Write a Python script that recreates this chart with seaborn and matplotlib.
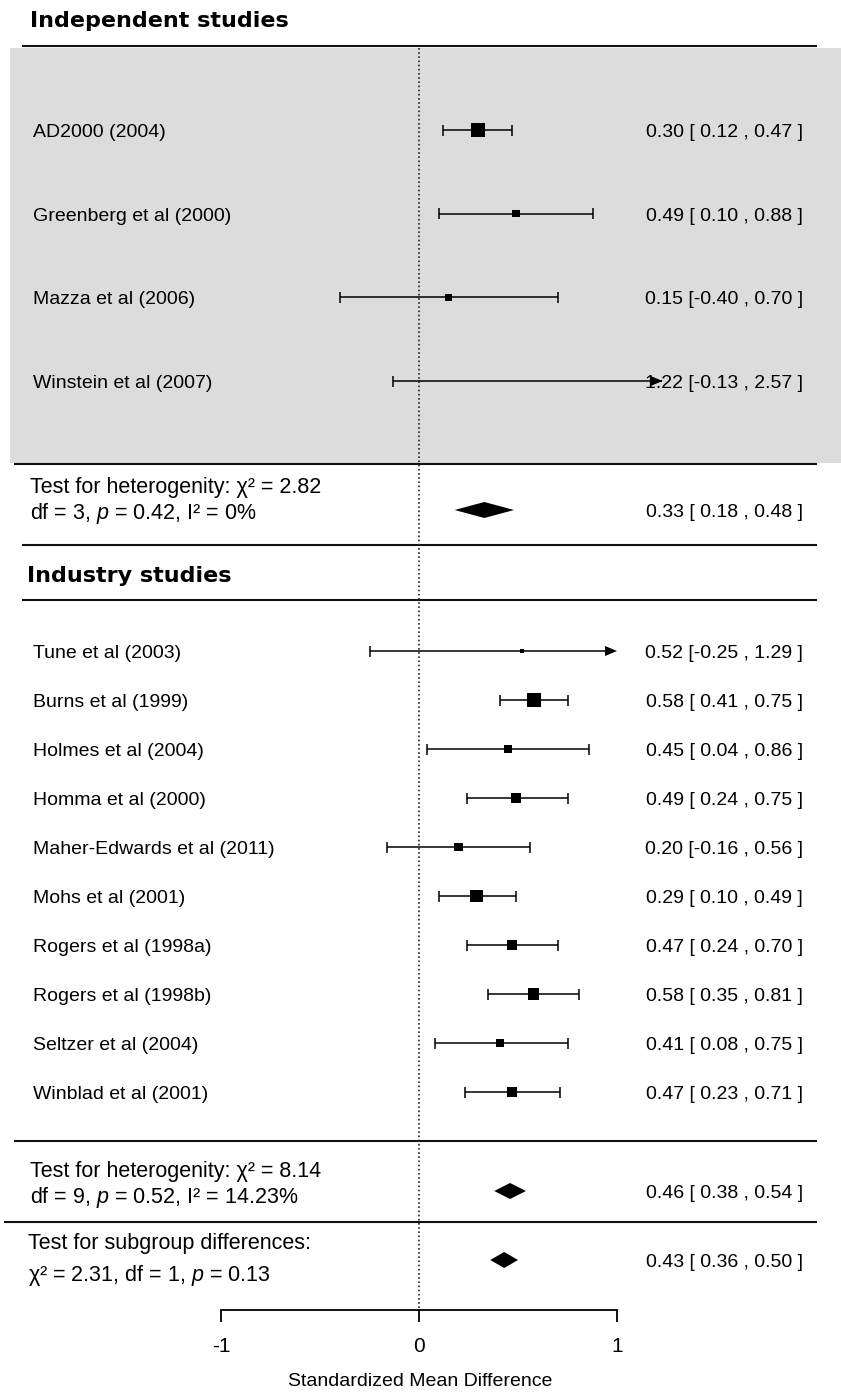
import numpy as np
import pandas as pd
import matplotlib
matplotlib.use("Agg")
import matplotlib.pyplot as plt
import seaborn as sns

# %% data
indep_names = ["AD2000 (2004)", "Greenberg et al (2000)", "Mazza et al (2006)", "Winstein et al (2007)"]
indep_est = [0.30, 0.49, 0.15, 1.22]
indep_lo = [0.12, 0.10, -0.40, -0.13]
indep_hi = [0.47, 0.88, 0.70, 2.57]
indep_weight = [66.4, 18.0, 14.2, 1.4]

ind_names = ["Tune et al (2003)", "Burns et al (1999)", "Holmes et al (2004)", "Homma et al (2000)",
             "Maher-Edwards et al (2011)", "Mohs et al (2001)", "Rogers et al (1998a)",
             "Rogers et al (1998b)", "Seltzer et al (2004)", "Winblad et al (2001)"]
ind_est = [0.52, 0.58, 0.45, 0.49, 0.20, 0.29, 0.47, 0.58, 0.41, 0.47]
ind_lo = [-0.25, 0.41, 0.04, 0.24, -0.16, 0.10, 0.24, 0.35, 0.08, 0.23]
ind_hi = [1.29, 0.75, 0.86, 0.75, 0.56, 0.49, 0.70, 0.81, 0.75, 0.71]
ind_weight = [1.7, 19.8, 5.6, 8.5, 7.3, 17.0, 10.5, 12.8, 6.2, 10.5]

# pooled: independent, industry, overall
pooled_est = [0.33, 0.46, 0.43]
pooled_lo = [0.18, 0.38, 0.36]
pooled_hi = [0.48, 0.54, 0.50]

het_chi2 = [2.82, 8.14]
het_df = [3, 9]
het_p = [0.42, 0.52]
het_i2 = ["0%", "14.23%"]
sub_chi2, sub_df, sub_p = 2.31, 1, 0.13

xticks = [-1, 0, 1]

# %% layout (pixels from the top of the figure)
W, H = 841, 1392
ZERO_PX, UNIT_PX = 419, 198
AXIS_PX = 1310
indep_rows = [130, 213.7, 297.3, 381]
ind_rows = list(np.arange(651, 1093, 49.0))
pooled_rows = [510, 1191, 1260]
SQ_MAX = (14 * 0.72) ** 2
LW = 1.1
TXT_DY = 2.5  # text sits a touch below the row line


def xval(px):
    return (px - ZERO_PX) / UNIT_PX


sns.set_style("white")
plt.rcParams["font.family"] = ["Liberation Sans", "DejaVu Sans"]
plt.rcParams["mathtext.fontset"] = "custom"
plt.rcParams["mathtext.rm"] = "Liberation Sans"
plt.rcParams["mathtext.it"] = "Liberation Sans:italic"
plt.rcParams["axes.unicode_minus"] = False
plt.rcParams["text.color"] = "black"
plt.rcParams["axes.labelcolor"] = "black"

fig = plt.figure(figsize=(W / 100, H / 100), dpi=100)
ax = fig.add_axes([0, (H - AXIS_PX) / H, 1, AXIS_PX / H])


def ci_label(est, lo, hi):
    return f"{est:.2f} [{lo:5.2f} , {hi:.2f} ]"


def draw_panel(names, est, lo, hi, weight, rows, clip):
    df = pd.DataFrame(dict(name=names, est=est, lo=lo, hi=hi, weight=weight, row=rows))
    arrow_len = 12 / UNIT_PX
    for r in df.itertuples():
        if r.hi > clip:
            ax.hlines(r.row, r.lo, clip - arrow_len, color="black", lw=LW, zorder=2)
            ax.fill([clip - arrow_len, clip, clip - arrow_len], [r.row - 5, r.row, r.row + 5],
                    color="black", lw=0, zorder=4)
        else:
            ax.hlines(r.row, r.lo, r.hi, color="black", lw=LW, zorder=2)
            ax.vlines(r.hi, r.row - 5.5, r.row + 5.5, color="black", lw=LW, zorder=2)
        ax.vlines(r.lo, r.row - 5.5, r.row + 5.5, color="black", lw=LW, zorder=2)
        ax.text(xval(33), r.row + TXT_DY, r.name, fontsize=14, va="center", ha="left")
        ax.text(xval(803), r.row + TXT_DY, ci_label(r.est, r.lo, r.hi), fontsize=14,
                va="center", ha="right")
    sns.scatterplot(data=df, x="est", y="row", size="weight", sizes=(0, SQ_MAX),
                    size_norm=(0, df["weight"].max()), marker="s", color="black",
                    linewidth=0, legend=False, ax=ax, zorder=3)


# shaded block behind the independent studies
ax.fill_between([xval(10), xval(W)], 48, 463, color="#dcdcdc", lw=0, zorder=0)

# separators
for y, x0, x1 in [(46, 22, 817), (464, 14, 817), (545, 22, 817), (600, 22, 817),
                  (1141, 14, 817), (1222, 4, 817)]:
    ax.hlines(y, xval(x0), xval(x1), color="#111111", lw=1.5, zorder=1)

# line of no effect
ax.vlines(0, 48, AXIS_PX, color="#222222", lw=1.2, linestyles=(0, (1, 1.5)), zorder=1)

draw_panel(indep_names, indep_est, indep_lo, indep_hi, indep_weight, indep_rows, 1.23)
draw_panel(ind_names, ind_est, ind_lo, ind_hi, ind_weight, ind_rows, 1.0)

# pooled diamonds
for est, lo, hi, row in zip(pooled_est, pooled_lo, pooled_hi, pooled_rows):
    ax.fill([lo, est, hi, est], [row, row - 8, row, row + 8], color="black", lw=0, zorder=3)
    ax.text(xval(803), row + TXT_DY, ci_label(est, lo, hi), fontsize=14, va="center", ha="right")

# headers
ax.text(xval(30), 21, "Independent studies", fontsize=16, fontweight="bold", va="center",
        ha="left", family=["DejaVu Sans"])
ax.text(xval(27), 576, "Industry studies", fontsize=16, fontweight="bold", va="center",
        ha="left", family=["DejaVu Sans"])

# heterogeneity / subgroup tests
het_y = [(488, 514), (1171, 1197)]
for (y1, y2), chi2, dfree, p, i2 in zip(het_y, het_chi2, het_df, het_p, het_i2):
    ax.text(xval(30), y1, f"Test for heterogenity: χ² = {chi2:.2f}", fontsize=15.5,
            va="center", ha="left")
    ax.text(xval(30), y2, rf"df = {dfree}, $p$ = {p:.2f}, I² = {i2}", fontsize=15.5,
            va="center", ha="left")
ax.text(xval(28), 1244, "Test for subgroup differences:", fontsize=15.5, va="center", ha="left")
ax.text(xval(28), 1276, rf"χ² = {sub_chi2:.2f}, df = {sub_df}, $p$ = {sub_p:.2f}",
        fontsize=15.5, va="center", ha="left")

# axis
ax.set_xlim(xval(0), xval(W))
ax.set_ylim(AXIS_PX, 0)
for side in ["top", "left", "right"]:
    ax.spines[side].set_visible(False)
ax.spines["bottom"].set_bounds(-1, 1)
ax.spines["bottom"].set_color("black")
ax.spines["bottom"].set_linewidth(1.3)
ax.set_yticks([])
ax.set_xticks(xticks)
ax.set_xticklabels([str(t) for t in xticks])
ax.tick_params(axis="x", direction="out", length=8.6, width=1.3, pad=11, labelsize=15,
               colors="black", bottom=True)
ax.set_xlabel("Standardized Mean Difference", fontsize=14, labelpad=12)
ax.set_ylabel("")
ax.patch.set_alpha(0)

fig.savefig("out.png", dpi=100)
